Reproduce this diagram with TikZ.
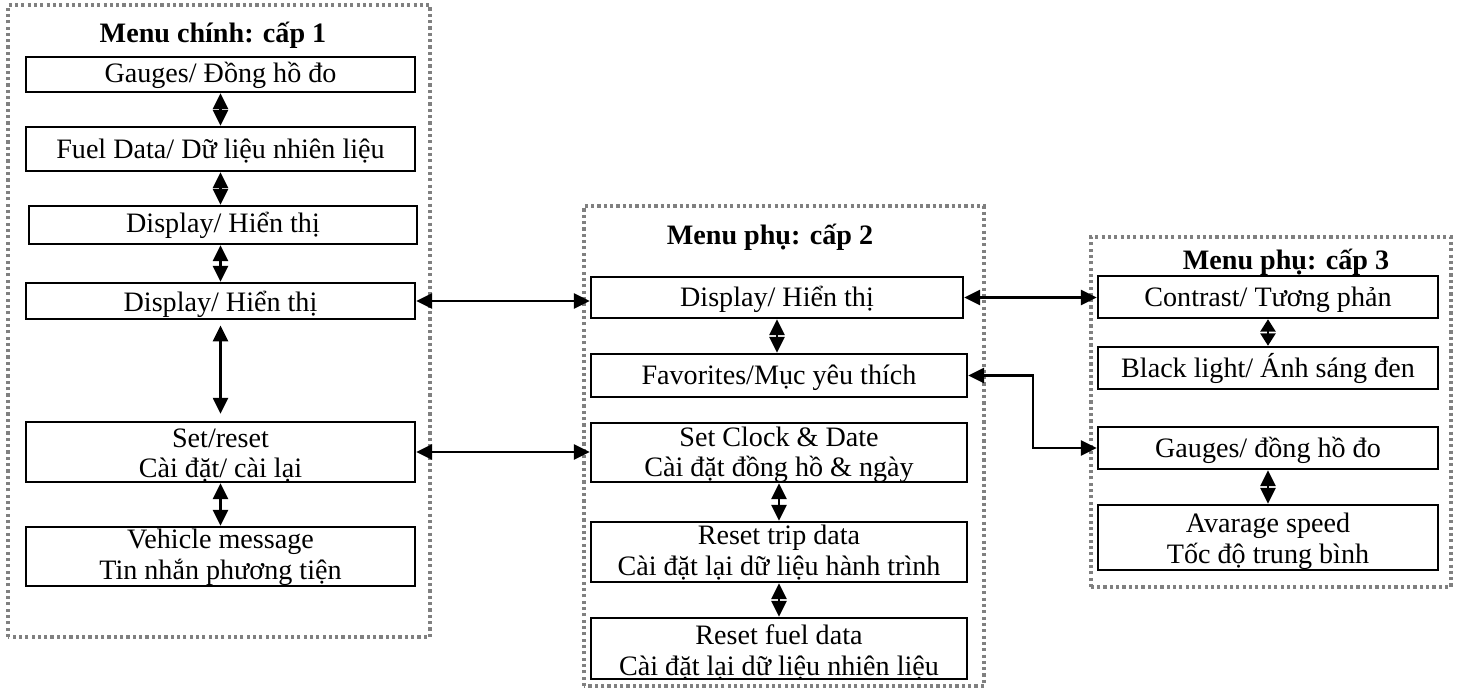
\documentclass[tikz,border=0pt]{standalone}
\usepackage{fontspec}
\setmainfont{Liberation Serif}
\usetikzlibrary{arrows.meta}

\begin{document}
\begin{tikzpicture}[
  menubox/.style={draw, line width=1.4pt, inner sep=0pt, align=center, font=\fontsize{16}{17.4}\selectfont},
  menutitle/.style={anchor=base, font=\fontsize{16}{17.4}\selectfont\bfseries},
  levelframe/.style={draw=black!50, line width=1.8pt, dash pattern=on 1.8pt off 1.8pt},
  link/.style={line width=1.3pt, {Triangle[length=9pt,width=8.5pt]}-{Triangle[length=9pt,width=8.5pt]}},
  shortlink/.style={line width=1.3pt, {Triangle[length=7pt,width=8.5pt]}-{Triangle[length=7pt,width=8.5pt]}}
]
  \useasboundingbox (0,0) rectangle (29.2,13.76);

  % Dotted frames of the three menu levels
  \draw[levelframe] (0.16,1.02) rectangle (8.60,13.66);
  \draw[levelframe] (11.68,0.04) rectangle (19.68,9.64);
  \draw[levelframe] (21.82,2.02) rectangle (29.02,9.02);

  % Level 1
  \node[menutitle] (mainTitle) at (4.26,12.90) {Menu chính: cấp 1};
  \node[menubox, minimum width=7.78cm, text height=0.52cm, text depth=0.18cm] (main1) at (4.41,12.27) {Gauges/ Đồng hồ đo};
  \node[menubox, minimum width=7.78cm, text height=0.64cm, text depth=0.24cm] (main2) at (4.41,10.78) {Fuel Data/ Dữ liệu nhiên liệu};
  \node[menubox, minimum width=7.76cm, text height=0.54cm, text depth=0.22cm] (main3) at (4.46,9.26) {Display/ Hiển thị};
  \node[menubox, minimum width=7.78cm, text height=0.58cm, text depth=0.14cm] (main4) at (4.41,7.74) {Display/ Hiển thị};
  \node[menubox, minimum width=7.78cm, text height=1.12cm, text depth=0.08cm] (main5) at (4.41,4.72) {Set/reset\\Cài đặt/ cài lại};
  \node[menubox, minimum width=7.78cm, text height=1.04cm, text depth=0.14cm] (main6) at (4.41,2.63) {Vehicle message\\Tin nhắn phương tiện};

  % Level 2
  \node[menutitle] (subTitle) at (15.40,8.86) {Menu phụ: cấp 2};
  \node[menubox, minimum width=7.44cm, text height=0.60cm, text depth=0.22cm] (sub1) at (15.54,7.81) {Display/ Hiển thị};
  \node[menubox, minimum width=7.52cm, text height=0.60cm, text depth=0.26cm] (sub2) at (15.58,6.25) {Favorites/Mục yêu thích};
  \node[menubox, minimum width=7.52cm, text height=1.08cm, text depth=0.10cm] (sub3) at (15.58,4.71) {Set Clock \& Date\\Cài đặt đồng hồ \& ngày};
  \node[menubox, minimum width=7.52cm, text height=1.06cm, text depth=0.14cm] (sub4) at (15.58,2.72) {Reset trip data\\Cài đặt lại dữ liệu hành trình};
  \node[menubox, minimum width=7.52cm, text height=1.14cm, text depth=0.08cm] (sub5) at (15.58,0.79) {Reset fuel data\\Cài đặt lại dữ liệu nhiên liệu};

  % Level 3
  \node[menutitle] (optTitle) at (25.72,8.36) {Menu phụ: cấp 3};
  \node[menubox, minimum width=6.80cm, text height=0.62cm, text depth=0.22cm] (opt1) at (25.36,7.82) {Contrast/ Tương phản};
  \node[menubox, minimum width=6.80cm, text height=0.62cm, text depth=0.22cm] (opt2) at (25.36,6.40) {Black light/ Ánh sáng đen};
  \node[menubox, minimum width=6.80cm, text height=0.60cm, text depth=0.24cm] (opt3) at (25.36,4.80) {Gauges/ đồng hồ đo};
  \node[menubox, minimum width=6.80cm, text height=1.16cm, text depth=0.14cm] (opt4) at (25.36,3.01) {Avarage speed\\Tốc độ trung bình};

  % Links inside level 1
  \draw[link] (main1) -- (main2);
  \draw[link] (main2.south) -- (main2.south |- main3.north);
  \draw[link] (main4.north |- main3.south) -- (main4.north);
  \draw[link, shorten <=3pt, shorten >=4pt] (main4) -- (main5);
  \draw[link] (main5) -- (main6);

  % Links inside level 2
  \draw[link] (sub1.south) -- (sub1.south |- sub2.north);
  \draw[link] (sub3) -- (sub4);
  \draw[link] (sub4) -- (sub5);

  % Links inside level 3
  \draw[shortlink] (opt1) -- (opt2);
  \draw[link] (opt3) -- (opt4);

  % Links between levels
  \draw[link] (main4.east) -- (main4.east -| sub1.west);
  \draw[link] (main5.east) -- (main5.east -| sub3.west);
  \draw[link] (sub1.east) -- (sub1.east -| opt1.west);
  \draw[link] (sub2.east) -- ++(1.3,0) |- (opt3.west);
\end{tikzpicture}
\end{document}
